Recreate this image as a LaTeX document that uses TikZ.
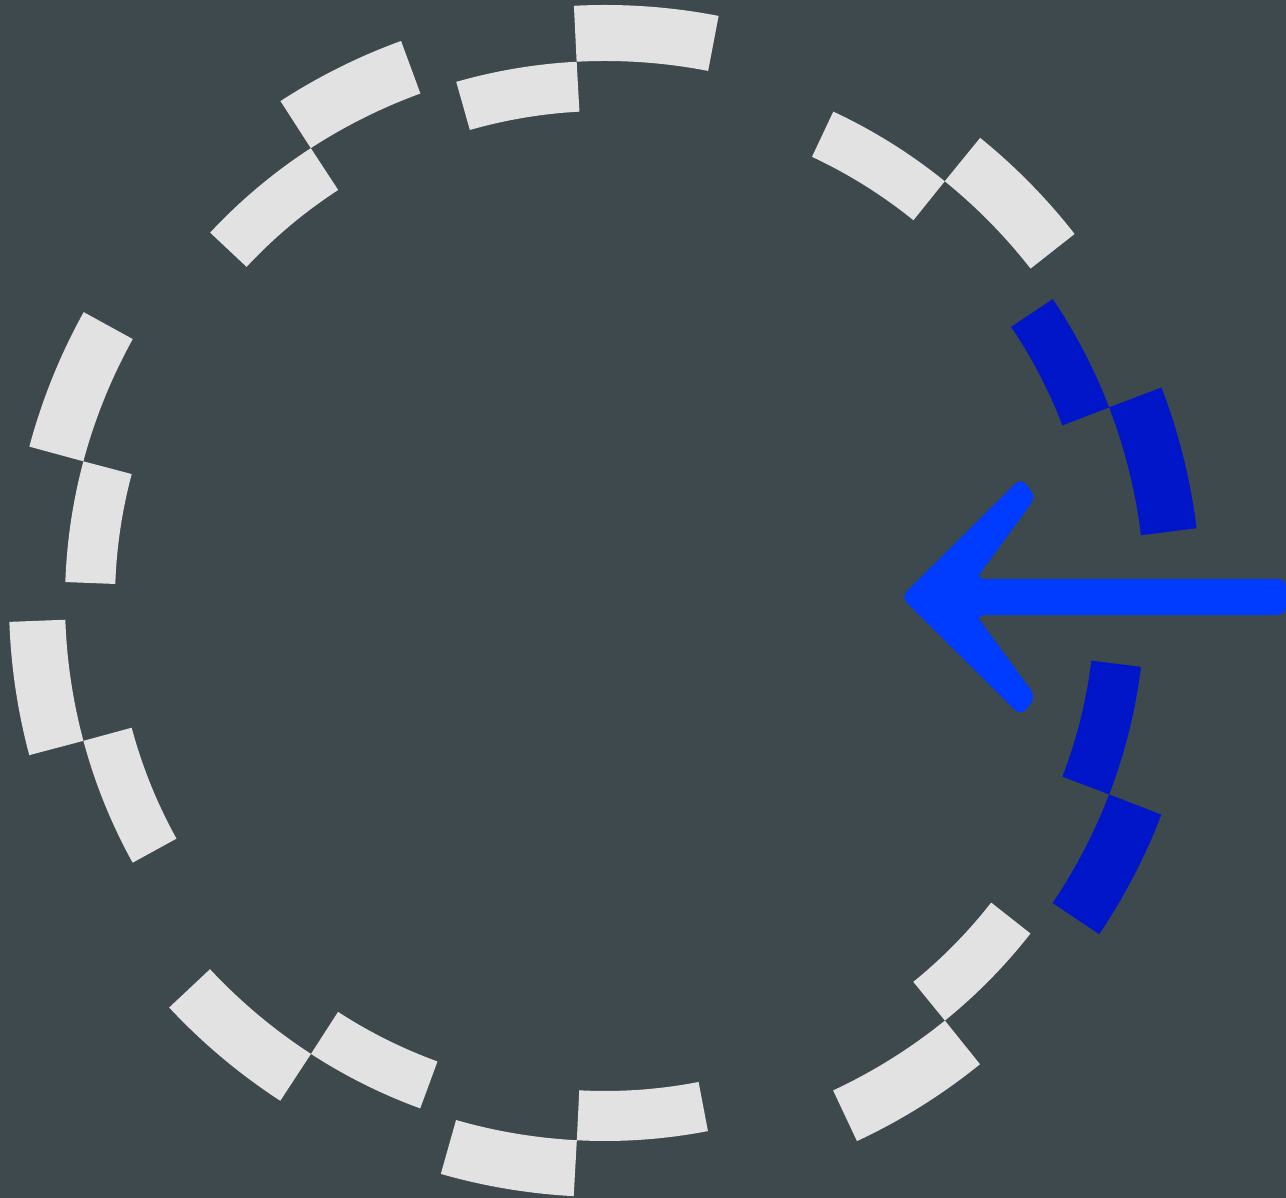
\documentclass[tikz,border=0pt]{standalone}
\usepackage{xcolor}
\usepackage{tikz}
\usetikzlibrary{calc}
\definecolor{siSlate}{RGB}{ 61, 73, 76}
\definecolor{siGrey} {RGB}{226,226,226}
\definecolor{siNavy} {RGB}{  0, 22,200}
\definecolor{siBlue} {RGB}{  0, 60,255}

\begin{document}
\begin{tikzpicture}[
  outerseg/.style={line width=5.6mm},
  innerseg/.style={line width=5mm},
  arrowhead/.style={fill=siBlue,rounded corners=0.8mm}
]
\fill[siSlate] (0,0) rectangle (12.86,11.98);
\useasboundingbox (0,0) rectangle (12.86,11.98);
\coordinate (C) at (6.05,5.97);
% Ring: pairs of dashes stepping from the outer to the inner track
% type A: longer outer dash, shorter inner dash
\foreach \m/\col in {21/siNavy,93/siGrey,165/siGrey,237/siGrey,309/siGrey}{
  \draw[outerseg,\col] ($(C)+(\m-14:5.68)$) arc[start angle=\m-14,end angle=\m,radius=5.68];
  \draw[innerseg,\col] ($(C)+(\m:5.15)$) arc[start angle=\m,end angle=\m+13,radius=5.15];
}
% type B: shorter outer dash, longer inner dash
\foreach \m/\col in {51/siGrey,123/siGrey,195/siGrey,267/siGrey,339/siNavy}{
  \draw[outerseg,\col] ($(C)+(\m-13:5.68)$) arc[start angle=\m-13,end angle=\m,radius=5.68];
  \draw[innerseg,\col] ($(C)+(\m:5.15)$) arc[start angle=\m,end angle=\m+14,radius=5.15];
}
% Arrow coming in from the right edge
\coordinate (tip) at (9.01,6.01);
\coordinate (armT) at (10.21,7.20);
\coordinate (endT) at (10.36,7.01);
\coordinate (neckT) at (9.76,6.19);
\coordinate (tailT) at (12.86,6.19);
\coordinate (tailB) at (12.86,5.83);
\coordinate (neckB) at (9.76,5.83);
\coordinate (endB) at (10.36,5.01);
\coordinate (armB) at (10.21,4.82);
\path[arrowhead] (tip) -- (armT) -- (endT) -- (neckT) -- (tailT) -- (tailB)
  -- (neckB) -- (endB) -- (armB) -- cycle;
\end{tikzpicture}
\end{document}
